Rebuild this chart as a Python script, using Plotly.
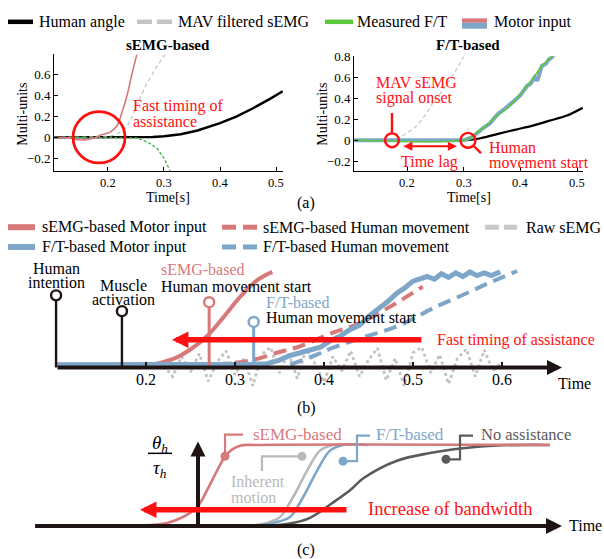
import plotly.graph_objects as go

W, H = 604, 559
FONT = "Liberation Serif"
RED = "#D7797B"
BLUE = "#7EA6C8"
GREEN = "#5CC83C"
LGRAY = "#C4C4C4"
MGRAY = "#B9B9B9"
DGRAY = "#5B5B5B"
BRED = "#FF1010"
AXC = "#1E1414"

# ---------------- (a) left : sEMG-based ----------------
aL_angle_t = [0.104, 0.26, 0.28, 0.30, 0.33, 0.36, 0.40, 0.43, 0.46, 0.49, 0.512]
aL_angle_v = [0.0, 0.0, 0.003, 0.01, 0.03, 0.065, 0.135, 0.20, 0.28, 0.37, 0.44]
aL_mav_t = [0.104, 0.19, 0.20, 0.21, 0.222, 0.234, 0.245, 0.257, 0.268, 0.28, 0.29, 0.302]
aL_mav_v = [0.0, 0.0, 0.005, 0.02, 0.05, 0.10, 0.22, 0.37, 0.50, 0.61, 0.70, 0.79]
aL_ft_t = [0.104, 0.24, 0.25, 0.262, 0.275, 0.2875, 0.30, 0.311]
aL_ft_v = [0.0, 0.0, -0.005, -0.025, -0.06, -0.105, -0.20, -0.32]
aL_motor_t = [0.104, 0.13, 0.15, 0.165, 0.178, 0.186, 0.196, 0.204, 0.216, 0.225, 0.234, 0.243, 0.252]
aL_motor_v = [0.0, -0.005, -0.025, -0.02, 0.0, 0.02, 0.035, 0.05, 0.11, 0.24, 0.40, 0.61, 0.80]

# ---------------- (a) right : F/T-based ----------------
aR_angle_t = [0.107, 0.29, 0.31, 0.33, 0.364, 0.39, 0.422, 0.45, 0.482, 0.51]
aR_angle_v = [0.0, 0.0, 0.004, 0.02, 0.066, 0.10, 0.14, 0.185, 0.236, 0.31]
aR_mav_t = [0.107, 0.17, 0.18, 0.193, 0.205, 0.218, 0.232, 0.246, 0.262, 0.276, 0.288, 0.30]
aR_mav_v = [0.0, 0.0, 0.01, 0.045, 0.09, 0.14, 0.24, 0.36, 0.47, 0.58, 0.68, 0.80]
aR_ft_t = [0.107, 0.30, 0.315, 0.323, 0.335, 0.346, 0.36, 0.382, 0.40, 0.412, 0.425, 0.438, 0.45, 0.46]
aR_ft_v = [0.0, 0.0, 0.03, 0.076, 0.12, 0.17, 0.24, 0.33, 0.44, 0.52, 0.61, 0.71, 0.77, 0.82]
aR_motor_t = [0.107, 0.2, 0.30, 0.315, 0.323, 0.335, 0.346, 0.36, 0.37, 0.382, 0.39, 0.40, 0.406,
              0.412, 0.418, 0.425, 0.43, 0.435, 0.438, 0.445, 0.45, 0.455, 0.46]
aR_motor_v = [0.0, 0.0, 0.0, 0.03, 0.07, 0.12, 0.16, 0.25, 0.29, 0.34, 0.38, 0.43, 0.47,
              0.52, 0.54, 0.60, 0.57, 0.66, 0.71, 0.73, 0.77, 0.79, 0.82]
a_xticks = [0.2, 0.3, 0.4, 0.5]
a_xticklabels = ["0.2", "0.3", "0.4", "0.5"]
aL_yticks = [-0.2, 0, 0.2, 0.4, 0.6]
aR_yticks = [-0.2, 0, 0.2, 0.4, 0.6, 0.8]

# ---------------- (b) ----------------
b_semg_motor_t = [0.099, 0.15, 0.2045, 0.23, 0.249, 0.2685, 0.2865, 0.306, 0.325, 0.342]
b_semg_motor_v = [0.03, 0.03, 0.03, 0.09, 0.19, 0.34, 0.54, 0.77, 0.95, 1.04]
b_semg_move_t = [0.2775, 0.317, 0.347, 0.373, 0.410, 0.440, 0.4775, 0.511]
b_semg_move_v = [0.03, 0.075, 0.16, 0.23, 0.38, 0.48, 0.68, 0.88]
b_ft_motor_t = [0.099, 0.15, 0.2, 0.25, 0.3, 0.32, 0.336, 0.35, 0.362, 0.373, 0.385, 0.396, 0.407,
                0.418, 0.429, 0.44, 0.452, 0.463, 0.472, 0.482, 0.49, 0.5, 0.508, 0.516, 0.524,
                0.532, 0.54, 0.548, 0.556, 0.564, 0.572, 0.58, 0.588, 0.598]
b_ft_motor_v = [0.03, 0.03, 0.025, 0.03, 0.03, 0.035, 0.04, 0.08, 0.13, 0.16, 0.2, 0.22, 0.29,
                0.34, 0.41, 0.46, 0.57, 0.65, 0.72, 0.81, 0.86, 0.94, 0.97, 0.99, 0.96,
                1.02, 0.98, 1.03, 0.99, 1.04, 1.0, 1.03, 1.0, 1.04]
b_ft_move_t = [0.362, 0.392, 0.410, 0.448, 0.4854, 0.5225, 0.5607, 0.583, 0.617]
b_ft_move_v = [0.03, 0.14, 0.215, 0.34, 0.46, 0.645, 0.81, 0.91, 1.05]
b_raw_t = [0.22, 0.23, 0.24, 0.25, 0.26, 0.27, 0.28, 0.29, 0.30, 0.31, 0.32, 0.33, 0.34,
           0.35, 0.36, 0.37, 0.38, 0.39, 0.40, 0.41, 0.42, 0.43, 0.44, 0.45, 0.46, 0.47,
           0.48, 0.49, 0.50, 0.51, 0.52, 0.53, 0.54, 0.55, 0.56, 0.57, 0.58, 0.59, 0.60]
b_raw_v = [0.02, -0.1, 0.12, -0.05, 0.15, -0.15, 0.06, 0.18, -0.08, 0.1, -0.2, 0.14, 0.22,
           -0.06, 0.16, -0.12, 0.2, 0.04, -0.16, 0.12, -0.04, 0.18, -0.1, 0.08, 0.21, -0.14,
           0.1, -0.2, 0.16, 0.22, -0.06, 0.14, -0.18, 0.1, 0.2, -0.1, 0.19, -0.04, 0.06]
b_stem_t = [0.099, 0.173, 0.271, 0.321]
b_stem_v = [0.785, 0.613, 0.71, 0.495]
b_stem_c = [AXC, AXC, RED, BLUE]
b_xticks = [0.2, 0.3, 0.4, 0.5, 0.6]

# ---------------- (c) ----------------
c_semg_u = [-1.17, -0.6, -0.31, -0.15, -0.01, 0.09, 0.19, 0.29, 0.42, 0.59, 3.52]
c_semg_v = [0.0, 0.005, 0.037, 0.11, 0.23, 0.44, 0.68, 0.89, 0.99, 1.0, 1.0]
c_inh_u = [0.2, 0.5, 0.69, 0.82, 0.95, 1.09, 1.22, 1.35, 1.6]
c_inh_v = [0.0, 0.0, 0.037, 0.11, 0.354, 0.68, 0.93, 1.0, 1.0]
c_ft_u = [0.3, 0.58, 0.75, 0.92, 1.05, 1.19, 1.32, 1.45, 1.7]
c_ft_v = [0.0, 0.0, 0.037, 0.11, 0.354, 0.68, 0.93, 1.0, 1.0]
c_no_u = [0.5, 0.89, 1.12, 1.34, 1.52, 1.65, 1.99, 2.32, 2.65, 2.99, 3.52]
c_no_v = [0.0, 0.024, 0.1, 0.28, 0.44, 0.585, 0.805, 0.90, 0.96, 0.994, 1.0]
c_br_semg_u = [0.45, 0.27, 0.27]
c_br_semg_v = [1.128, 1.128, 0.86]
c_br_inh_u = [0.64, 0.64, 1.04]
c_br_inh_v = [0.677, 0.86, 0.86]
c_br_ft_u = [1.72, 1.59, 1.59, 1.45]
c_br_ft_v = [1.116, 1.116, 0.80, 0.80]
c_br_no_u = [2.75, 2.62, 2.62, 2.48]
c_br_no_v = [1.116, 1.116, 0.823, 0.823]


def px(x):
    return x / W


def py(y):
    return 1 - y / H


fig = go.Figure()


def line(x, y, color, width, xa, ya, dash=None, shape="linear", opacity=1.0):
    fig.add_trace(go.Scatter(x=x, y=y, mode="lines", xaxis=xa, yaxis=ya, showlegend=False,
                             opacity=opacity, hoverinfo="skip",
                             line=dict(color=color, width=width, dash=dash, shape=shape)))


# (a) left
line(aL_angle_t, aL_angle_v, "black", 2.5, "x", "y")
line(aL_mav_t, aL_mav_v, LGRAY, 1.2, "x", "y", dash="4px,3px")
line(aL_ft_t, aL_ft_v, "#33B533", 1.3, "x", "y", dash="3px,2px")
line(aL_motor_t, aL_motor_v, RED, 1.6, "x", "y", shape="spline")
# (a) right
line(aR_mav_t, aR_mav_v, LGRAY, 1.2, "x2", "y2", dash="4px,3px")
line(aR_angle_t, aR_angle_v, "black", 2.2, "x2", "y2", shape="spline")
line(aR_motor_t, aR_motor_v, BLUE, 4, "x2", "y2")
line(aR_ft_t, aR_ft_v, GREEN, 1.6, "x2", "y2", shape="spline")

# (b)
line(b_raw_t, b_raw_v, "#C2C2C2", 2.8, "x3", "y3", dash="3px,3px")
line(b_semg_move_t, b_semg_move_v, RED, 4, "x3", "y3", dash="13px,7px", shape="spline")
line(b_ft_move_t, b_ft_move_v, BLUE, 4, "x3", "y3", dash="13px,7px", shape="spline")
line(b_semg_motor_t, b_semg_motor_v, RED, 4, "x3", "y3", shape="spline")
line(b_ft_motor_t, b_ft_motor_v, BLUE, 5, "x3", "y3")
for t, v, c in zip(b_stem_t, b_stem_v, b_stem_c):
    line([t, t], [0, v], c, 3 if c != AXC else 2.4, "x3", "y3")
    fig.add_trace(go.Scatter(x=[t], y=[v], mode="markers", xaxis="x3", yaxis="y3", showlegend=False,
                             hoverinfo="skip",
                             marker=dict(size=10, color="white", line=dict(color=c, width=2.4))))

# (c)
line(c_no_u, c_no_v, DGRAY, 2.6, "x4", "y4", shape="spline")
line(c_inh_u, c_inh_v, MGRAY, 2.6, "x4", "y4", shape="spline")
line(c_ft_u, c_ft_v, BLUE, 2.6, "x4", "y4", shape="spline")
line(c_semg_u, c_semg_v, RED, 2.6, "x4", "y4", shape="spline")
for bu, bv, c in [(c_br_semg_u, c_br_semg_v, RED), (c_br_inh_u, c_br_inh_v, MGRAY),
                  (c_br_ft_u, c_br_ft_v, BLUE), (c_br_no_u, c_br_no_v, DGRAY)]:
    line(bu, bv, c, 2.2, "x4", "y4")
    fig.add_trace(go.Scatter(x=[bu[-1]], y=[bv[-1]], mode="markers", xaxis="x4", yaxis="y4",
                             showlegend=False, hoverinfo="skip",
                             marker=dict(size=9, color=c)))

ann = []
shapes = []


def txt(x, y, s, size=16, color="black", xanchor="left", angle=0):
    ann.append(dict(xref="paper", yref="paper", x=px(x), y=py(y), text=s, showarrow=False,
                    xanchor=xanchor, yanchor="middle", textangle=angle,
                    font=dict(family=FONT, size=size, color=color)))


def arrow(x0, y0, x1, y1, xr, yr, color, width, size, both=False):
    d = dict(xref=xr, yref=yr, axref=xr, ayref=yr, x=x1, y=y1, ax=x0, ay=y0, text="",
             showarrow=True, arrowhead=2, arrowsize=size, arrowwidth=width, arrowcolor=color,
             standoff=0, startstandoff=0)
    if both:
        d.update(arrowside="end+start", startarrowhead=2, startarrowsize=size)
    ann.append(d)


def hline_paper(x0, x1, y, color, width, dash=None):
    shapes.append(dict(type="line", xref="paper", yref="paper", x0=px(x0), x1=px(x1),
                       y0=py(y), y1=py(y), line=dict(color=color, width=width, dash=dash)))


# x tick labels of (a), placed through each axis' own scale
for xr in ("x", "x2"):
    for tv, tl in zip(a_xticks, a_xticklabels):
        ann.append(dict(xref=xr, yref="paper", x=tv, y=py(178), text=tl, showarrow=False,
                        xanchor="center", yanchor="middle",
                        font=dict(family=FONT, size=12.5, color="black")))

# ---- (a) legend ----
hline_paper(8, 33, 15, "black", 4.5)
txt(37, 15, "Human angle")
hline_paper(137, 152, 15, LGRAY, 4.5)
hline_paper(157, 172, 15, LGRAY, 4.5)
txt(176, 15, "MAV filtered sEMG")
hline_paper(325, 353, 15, GREEN, 4.5)
txt(355, 15, "Measured F/T")
shapes.append(dict(type="rect", xref="paper", yref="paper", x0=px(462), x1=px(487), y0=py(16),
                   y1=py(11.5), fillcolor=RED, line=dict(width=0)))
shapes.append(dict(type="rect", xref="paper", yref="paper", x0=px(462), x1=px(487), y0=py(22),
                   y1=py(16), fillcolor=BLUE, line=dict(width=0)))
txt(492, 15, "Motor input")

txt(168, 38, "<b>sEMG-based</b>", size=15, xanchor="center")
txt(468, 38, "<b>F/T-based</b>", size=15, xanchor="center")
txt(23, 109, "Multi-units", size=14, xanchor="center", angle=-90)
txt(323, 109, "Multi-units", size=14, xanchor="center", angle=-90)
txt(168, 193, "Time[s]", size=14, xanchor="center")
txt(469, 193, "Time[s]", size=14, xanchor="center")
txt(306, 198, "(a)", size=16, xanchor="center")

# left annotations
shapes.append(dict(type="circle", xref="x", yref="y", x0=0.184 - 0.0464, x1=0.184 + 0.0464,
                   y0=-0.245, y1=0.245, line=dict(color=BRED, width=2.8)))
txt(131, 100, "Fast timing of", color=BRED)
txt(131, 116, "assistance", color=BRED)

# right annotations
shapes.append(dict(type="circle", xref="x2", yref="y2", x0=0.1735 - 0.0123, x1=0.1735 + 0.0123,
                   y0=-0.066, y1=0.066, line=dict(color=BRED, width=2.4)))
shapes.append(dict(type="line", xref="x2", yref="y2", x0=0.1735, x1=0.1735, y0=0.066, y1=0.26,
                   line=dict(color=BRED, width=2.4)))
shapes.append(dict(type="circle", xref="x2", yref="y2", x0=0.3076 - 0.0132, x1=0.3076 + 0.0132,
                   y0=-0.071, y1=0.071, line=dict(color=BRED, width=2.4)))
shapes.append(dict(type="line", xref="x2", yref="y2", x0=0.3164, x1=0.3305, y0=-0.047, y1=-0.123,
                   line=dict(color=BRED, width=2.4)))
arrow(0.191, -0.057, 0.288, -0.057, "x2", "y2", BRED, 2, 0.9, both=True)
txt(429, 157, "Time lag", color=BRED, xanchor="center")
txt(374, 76, "MAV sEMG", color=BRED)
txt(374, 92, "signal onset", color=BRED)
txt(487, 142, "Human", color=BRED)
txt(487, 157, "movement start", color=BRED)

# ---- (b) legend ----
hline_paper(8, 35, 223, RED, 6)
txt(40, 223, "sEMG-based Motor input")
hline_paper(222, 236, 223, RED, 5)
hline_paper(243, 257, 223, RED, 5)
txt(261, 223, "sEMG-based Human movement")
hline_paper(485, 499, 223, "#C8C8C8", 5)
hline_paper(504, 517, 223, "#C8C8C8", 5)
txt(524, 223, "Raw sEMG")
hline_paper(8, 35, 243, BLUE, 6)
txt(40, 243, "F/T-based Motor input")
hline_paper(222, 236, 243, BLUE, 5)
hline_paper(243, 257, 243, BLUE, 5)
txt(261, 243, "F/T-based Human movement")

# (b) axis + arrows + text
arrow(0.0989, 0, 0.6674, 0, "x3", "y3", AXC, 4, 0.75)
arrow(0.5112, 0.301, 0.2292, 0.301, "x3", "y3", BRED, 5.5, 0.6)
txt(435, 337, "Fast timing of assistance", color=BRED)
txt(556, 381, "Time")
txt(56, 265, "Human", xanchor="center")
txt(56, 279, "intention", xanchor="center")
txt(123, 282, "Muscle", xanchor="center")
txt(123, 296, "activation", xanchor="center")
txt(159, 266, "sEMG-based", color=RED)
txt(159, 283, "Human movement start")
txt(264, 299, "F/T-based", color=BLUE)
txt(264, 314, "Human movement start")
txt(306, 406, "(b)", xanchor="center")

# (c) axes arrows + text
arrow(-1.644, 0, 3.64, 0, "x4", "y4", AXC, 4, 0.8)
arrow(0, 0, 0, 1.043, "x4", "y4", AXC, 4, 0.75)
arrow(1.5, 0.20, -0.58, 0.20, "x4", "y4", BRED, 5.5, 0.6)
txt(366, 508, "Increase of bandwidth", size=18.5, color=BRED)
txt(567, 525, "Time")
txt(160, 443, "<i>θ</i><sub><i>h</i></sub>", size=19, xanchor="center")
hline_paper(148, 172, 452, "black", 1.5)
txt(160, 468, "<i>τ</i><sub><i>h</i></sub>", size=19, xanchor="center")
txt(251, 433, "sEMG-based", size=17, color=RED)
txt(374, 433, "F/T-based", size=17, color=BLUE)
txt(479, 433, "No assistance", size=16.5, color=DGRAY)
txt(229, 481, "Inherent", size=16, color=MGRAY)
txt(229, 497, "motion", size=16, color=MGRAY)
txt(306, 550, "(c)", xanchor="center")

axis_a = dict(showline=True, linecolor="black", linewidth=1, ticks="inside", ticklen=4,
              tickcolor="black", showgrid=False, zeroline=False, mirror=False,
              tickfont=dict(family=FONT, size=13, color="black"))

fig.update_layout(
    width=W, height=H, margin=dict(l=0, r=0, t=0, b=0),
    paper_bgcolor="white", plot_bgcolor="rgba(0,0,0,0)",
    showlegend=False,
    xaxis=dict(domain=[54 / W, 283 / W], range=[0.1036, 0.5125], tickvals=a_xticks,
               showticklabels=False, anchor="y", **axis_a),
    yaxis=dict(domain=[1 - 166 / H, 1 - 48 / H], range=[-0.321, 0.792], tickvals=aL_yticks,
               anchor="x", **axis_a),
    xaxis2=dict(domain=[354 / W, 583 / W], range=[0.1065, 0.5105], tickvals=a_xticks,
                showticklabels=False, anchor="y2", **axis_a),
    yaxis2=dict(domain=[1 - 166 / H, 1 - 50 / H], range=[-0.2918, 0.8005], tickvals=aR_yticks,
                anchor="x2", **axis_a),
    xaxis3=dict(domain=[0, 1], range=[0.036, 0.7146], anchor="free", position=1 - 365 / H,
                showline=False, showgrid=False, zeroline=False, ticks="inside", ticklen=5,
                tickwidth=1.5, tickcolor=AXC, tickvals=b_xticks, ticklabelstandoff=1,
                tickfont=dict(family=FONT, size=16, color="black")),
    yaxis3=dict(domain=[1 - 395 / H, 1 - 250 / H], range=[-0.3226, 1.2366], visible=False,
                anchor="x3"),
    xaxis4=dict(domain=[0, 1], range=[-1.98, 4.06], visible=False, anchor="y4"),
    yaxis4=dict(domain=[0, 1 - 410 / H], range=[-0.4085, 1.4085], visible=False, anchor="x4"),
    annotations=ann, shapes=shapes,
)

fig.write_html("out.html")
